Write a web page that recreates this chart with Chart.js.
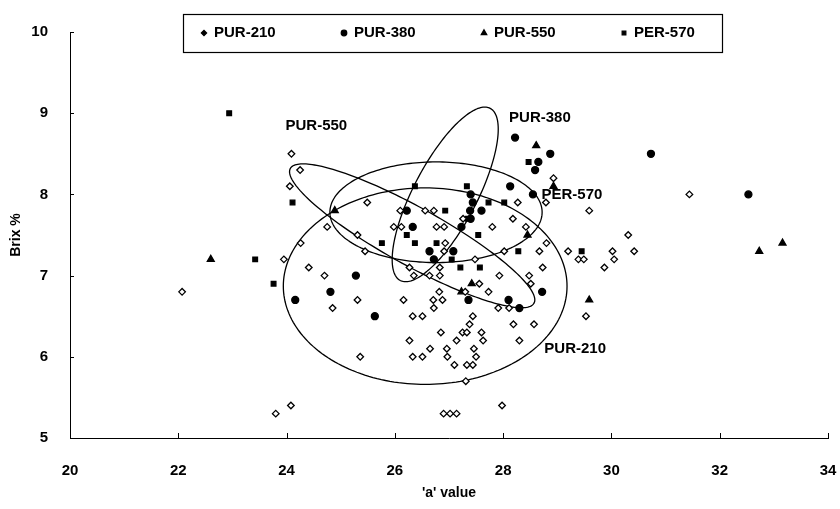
<!DOCTYPE html>
<html>
<head>
<meta charset="utf-8">
<title>Brix % - 'a' value</title>
<script src="https://cdn.jsdelivr.net/npm/chart.js@4.4.0/dist/chart.umd.min.js"></script>
<style>
    html, body { margin: 0; padding: 0; background: #fff; }
    #contenedor { width: 840px; height: 509px; }
</style>
</head>
<body>
<div id="contenedor"><canvas id="grafico" width="840" height="509"></canvas></div>
<script>
// nombres de las series
var series = ['PUR-210', 'PUR-380', 'PUR-550', 'PER-570'];

// valores 'a' y Brix % de cada muestra
var pur210A = [24.09, 24.25, 24.06, 25.49, 24.75, 24.26, 23.95, 24.41, 24.70, 25.31, 25.45, 25.31, 24.85, 25.36,
    26.16, 26.33, 26.51, 26.71, 26.72, 26.27, 26.65, 26.33, 26.51, 26.10, 26.56, 26.72, 25.98, 26.12, 26.77,
    26.27, 26.35, 26.64, 26.82, 24.08, 23.80, 22.07, 27.91, 28.11, 27.44, 27.38, 28.19, 28.57, 29.53, 26.85,
    27.25, 27.33, 27.60, 27.14, 27.63, 28.30, 26.96, 27.46, 26.97, 27.50, 27.10, 27.33, 27.44, 27.31, 26.90,
    27.02, 27.14, 27.98, 28.27, 29.59, 28.93, 28.79, 27.26, 26.91, 27.80, 28.18, 28.42, 28.80, 28.67, 28.02,
    29.20, 29.39, 29.49, 30.02, 30.42, 30.31, 30.05, 29.87, 31.44, 28.73, 28.48, 27.93, 27.73, 27.56, 27.30,
    26.93, 26.91, 26.83, 27.48, 28.51, 26.88, 26.83];
var pur210Brix = [8.5, 8.3, 8.1, 7.9, 7.6, 7.4, 7.2, 7.1, 7.0, 7.5, 7.3, 6.7, 6.6, 6.0,
    6.7, 6.5, 6.5, 6.7, 6.6, 6.2, 6.1, 6.0, 6.0, 7.8, 7.8, 7.8, 7.6, 7.6, 7.6,
    7.1, 7.0, 7.0, 6.8, 5.4, 5.3, 6.8, 6.6, 6.6, 6.5, 6.4, 6.4, 6.4, 6.5, 6.3,
    6.3, 6.3, 6.3, 6.2, 6.2, 6.2, 6.1, 6.1, 6.0, 6.0, 5.9, 5.9, 5.9, 5.7, 5.3,
    5.3, 5.3, 5.4, 7.9, 7.8, 8.2, 7.9, 7.7, 7.6, 7.6, 7.7, 7.6, 7.4, 7.3, 7.3,
    7.3, 7.2, 7.2, 7.3, 7.3, 7.5, 7.2, 7.1, 8.0, 7.1, 7.0, 7.0, 6.8, 6.9, 6.8,
    7.4, 7.3, 7.1, 7.2, 6.9, 6.7, 7.0];

var pur380A = [25.28, 24.81, 24.16, 25.63, 26.33, 26.64, 26.22, 26.72, 28.22, 28.87, 28.65, 28.59, 28.13, 28.55,
    27.40, 27.44, 27.60, 27.39, 27.40, 27.23, 28.72, 28.10, 28.30, 27.08, 27.36, 30.73, 32.53];
var pur380Brix = [7.0, 6.8, 6.7, 6.5, 7.6, 7.3, 7.8, 7.2, 8.7, 8.5, 8.4, 8.3, 8.1, 8.0,
    8.0, 7.9, 7.8, 7.8, 7.7, 7.6, 6.8, 6.7, 6.6, 7.3, 6.7, 8.5, 8.0];

var pur550A = [22.60, 24.89, 28.61, 28.93, 28.45, 27.42, 27.23, 29.59, 32.73, 33.16];
var pur550Brix = [7.2, 7.8, 8.6, 8.1, 7.5, 6.9, 6.8, 6.7, 7.3, 7.4];

var per570A = [22.94, 23.42, 23.76, 24.11, 26.37, 26.22, 26.37, 25.76, 26.77, 27.33, 28.47, 27.73, 28.02, 26.93,
    27.35, 27.54, 28.28, 29.45, 27.05, 27.21, 27.57];
var per570Brix = [9.0, 7.2, 6.9, 7.9, 8.1, 7.5, 7.4, 7.4, 7.4, 8.1, 8.4, 7.9, 7.9, 7.8,
    7.7, 7.5, 7.3, 7.3, 7.2, 7.1, 7.1];

// elipses de cada grupo: centro y semiejes conjugados (en unidades de los ejes)
var elipseCentroA = [26.56, 26.93, 26.32, 26.76];
var elipseCentroBrix = [6.87, 8.00, 7.49, 7.78];
var elipseUa = [2.62, 0.83, 2.25, 1.96];
var elipseUbrix = [0, 1.06, -0.83, 0];
var elipseVa = [0, 0.52, 0.26, 0];
var elipseVbrix = [1.21, -0.18, 0.31, 0.62];

// donde va el nombre de cada elipse
var etiquetaA = [29.33, 28.68, 24.55, 29.27];
var etiquetaBrix = [6.10, 8.94, 8.84, 7.99];

var ticksA = [20, 22, 24, 26, 28, 30, 32, 34];
var ticksBrix = [5, 6, 7, 8, 9, 10];

var fuente = '"Liberation Sans", Arial, sans-serif';
var estilos = ['rectRot', 'circle', 'triangle', 'rect'];
var radios = [3.3, 3.5, 4, 3.3];

function puntos(xs, ys) {
    return xs.map(function(x, i) {
        return { x: x, y: ys[i] };
    });
}

var datosSeries = [
    puntos(pur210A, pur210Brix),
    puntos(pur380A, pur380Brix),
    puntos(pur550A, pur550Brix),
    puntos(per570A, per570Brix)
];

// elipses y sus nombres, debajo de los puntos
var pluginElipses = {
    id: 'elipses',
    beforeDatasetsDraw: function(chart) {
        var ctx = chart.ctx, sx = chart.scales.x, sy = chart.scales.y;
        ctx.save();
        ctx.strokeStyle = '#000';
        ctx.lineWidth = 1.3;
        for (var i = 0; i < series.length; i++) {
            ctx.beginPath();
            for (var k = 0; k <= 200; k++) {
                var t = k / 200 * Math.PI * 2;
                var a = elipseCentroA[i] + elipseUa[i] * Math.cos(t) + elipseVa[i] * Math.sin(t);
                var b = elipseCentroBrix[i] + elipseUbrix[i] * Math.cos(t) + elipseVbrix[i] * Math.sin(t);
                var px = sx.getPixelForValue(a), py = sy.getPixelForValue(b);
                if (k == 0) ctx.moveTo(px, py); else ctx.lineTo(px, py);
            }
            ctx.closePath();
            ctx.stroke();
        }
        ctx.fillStyle = '#000';
        ctx.font = 'bold 15px ' + fuente;
        ctx.textAlign = 'center';
        ctx.textBaseline = 'middle';
        for (var j = 0; j < series.length; j++) {
            ctx.fillText(series[j], sx.getPixelForValue(etiquetaA[j]), sy.getPixelForValue(etiquetaBrix[j]));
        }
        ctx.restore();
    }
};

// marcas de los ejes hacia dentro y cuadro de leyenda
var pluginEjes = {
    id: 'ejes',
    afterDraw: function(chart) {
        var ctx = chart.ctx, sx = chart.scales.x, sy = chart.scales.y;
        var area = chart.chartArea;
        ctx.save();
        ctx.strokeStyle = '#000';
        ctx.lineWidth = 1;
        ctx.beginPath();
        ticksA.forEach(function(v) {
            var px = Math.round(sx.getPixelForValue(v)) + 0.5;
            ctx.moveTo(px, area.bottom);
            ctx.lineTo(px, area.bottom - 5);
        });
        ticksBrix.forEach(function(v) {
            var py = Math.round(sy.getPixelForValue(v)) + 0.5;
            ctx.moveTo(area.left, py);
            ctx.lineTo(area.left + 4, py);
        });
        ctx.stroke();

        // leyenda
        var cajaX = 183, cajaY = 14, cajaW = 539, cajaH = 38;
        ctx.fillStyle = '#fff';
        ctx.fillRect(cajaX, cajaY, cajaW, cajaH);
        ctx.lineWidth = 1.2;
        ctx.strokeRect(cajaX + 0.5, cajaY + 0.5, cajaW, cajaH);
        ctx.font = 'bold 15px ' + fuente;
        ctx.textAlign = 'left';
        ctx.textBaseline = 'middle';
        ctx.fillStyle = '#000';
        var yc = cajaY + cajaH / 2;
        for (var i = 0; i < series.length; i++) {
            var mx = cajaX + 21 + i * 140;
            Chart.helpers.drawPoint(ctx, {
                pointStyle: estilos[i],
                radius: radios[i] * 0.8,
                borderWidth: 1.3
            }, mx, yc);
            ctx.fillStyle = '#000';
            ctx.fillText(series[i], mx + 10, yc);
        }
        ctx.restore();
    }
};

var ctx = document.getElementById('grafico').getContext('2d');
var chartBrix = new Chart(ctx, {
    type: 'scatter',
    data: {
        datasets: series.map(function(nombre, i) {
            return {
                label: nombre,
                data: datosSeries[i],
                pointStyle: estilos[i],
                pointRadius: radios[i],
                pointBorderWidth: 1.3,
                borderColor: '#000',
                backgroundColor: i == 0 ? '#fff' : '#000'
            };
        })
    },
    options: {
        responsive: false,
        devicePixelRatio: 1,
        animation: false,
        layout: {
            padding: { left: 0, right: 12, top: 32, bottom: 0 }
        },
        plugins: {
            legend: { display: false },
            tooltip: { enabled: false }
        },
        scales: {
            x: {
                type: 'linear',
                min: 20,
                max: 34,
                afterBuildTicks: function(scale) {
                    scale.ticks = ticksA.map(function(v) { return { value: v }; });
                },
                afterFit: function(scale) {
                    scale.height = 71;
                    scale.paddingRight = 0;
                    scale.paddingLeft = 0;
                },
                grid: { display: false },
                border: { display: true, color: '#000', width: 1 },
                ticks: {
                    color: '#000',
                    padding: 16,
                    maxRotation: 0,
                    font: { family: fuente, size: 15, weight: 'bold' }
                },
                title: {
                    display: true,
                    text: "'a' value",
                    color: '#000',
                    padding: { top: 0, bottom: 7 },
                    font: { family: fuente, size: 14, weight: 'bold' }
                }
            },
            y: {
                type: 'linear',
                min: 5,
                max: 10,
                afterBuildTicks: function(scale) {
                    scale.ticks = ticksBrix.map(function(v) { return { value: v }; });
                },
                afterFit: function(scale) { scale.width = 70; },
                grid: { display: false },
                border: { display: true, color: '#000', width: 1 },
                ticks: {
                    color: '#000',
                    padding: 14,
                    font: { family: fuente, size: 15, weight: 'bold' }
                },
                title: {
                    display: true,
                    text: 'Brix %',
                    color: '#000',
                    padding: { top: 8, bottom: 0 },
                    font: { family: fuente, size: 14, weight: 'bold' }
                }
            }
        }
    },
    plugins: [pluginElipses, pluginEjes]
});
</script>
</body>
</html>
